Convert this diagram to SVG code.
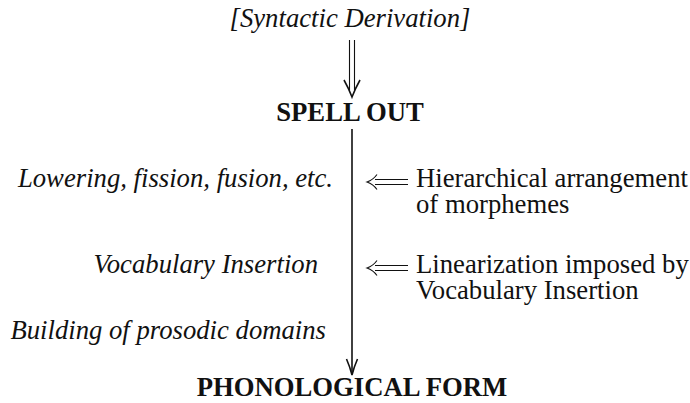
<svg xmlns="http://www.w3.org/2000/svg" width="690" height="403" viewBox="0 0 690 403">
  <style>
    text { font-family: "Liberation Serif", "Times New Roman", serif; font-size: 26.7px; fill: #111; }
    .it { font-style: italic; }
    .bold { font-weight: bold; }
    .mid { text-anchor: middle; }
    .end { text-anchor: end; }
    .ln { stroke: #111; stroke-width: 1.6; fill: none; }
    .thin { stroke: #111; stroke-width: 1.1; fill: none; }
  </style>

  <g id="syntactic-derivation">
    <text x="350" y="27" class="it mid">[Syntactic Derivation]</text>
  </g>

  <g id="spell-out">
    <text x="350" y="121" class="bold mid">SPELL OUT</text>
  </g>

  <g id="lowering">
    <text x="333" y="187" class="it end">Lowering, fission, fusion, etc.</text>
  </g>

  <g id="hierarchical">
    <text x="416" y="187">Hierarchical arrangement<tspan x="416" dy="26">of morphemes</tspan></text>
  </g>

  <g id="vocabulary-insertion">
    <text x="318" y="273" class="it end">Vocabulary Insertion</text>
  </g>

  <g id="linearization">
    <text x="416" y="273">Linearization imposed by<tspan x="416" dy="26">Vocabulary Insertion</tspan></text>
  </g>

  <g id="prosodic-domains">
    <text x="326" y="339" class="it end">Building of prosodic domains</text>
  </g>

  <g id="phonological-form">
    <text x="352" y="396" class="bold mid">PHONOLOGICAL FORM</text>
  </g>

  <g id="connectors">
    <!-- double arrow from the derivation down to Spell Out -->
    <path d="M349.5,40 V90 M354.5,40 V90" class="thin"/>
    <path d="M344,80 Q349,89 352,97 Q355,89 360,80" class="ln"/>
    <!-- main derivation line down to Phonological Form -->
    <line x1="352" y1="129" x2="352" y2="374" class="ln"/>
    <path d="M346.5,359 Q350,367 352,375 Q354,367 357.5,359" class="ln"/>
    <!-- double arrows feeding the side notes -->
    <path d="M375,179.5 H408 M375,184.5 H408" class="thin"/>
    <path d="M377,174.5 Q373,180 367,182 Q373,184 377,189.5" class="thin"/>
    <path d="M375,265.5 H408 M375,270.5 H408" class="thin"/>
    <path d="M377,260.5 Q373,266 367,268 Q373,270 377,275.5" class="thin"/>
  </g>
</svg>
